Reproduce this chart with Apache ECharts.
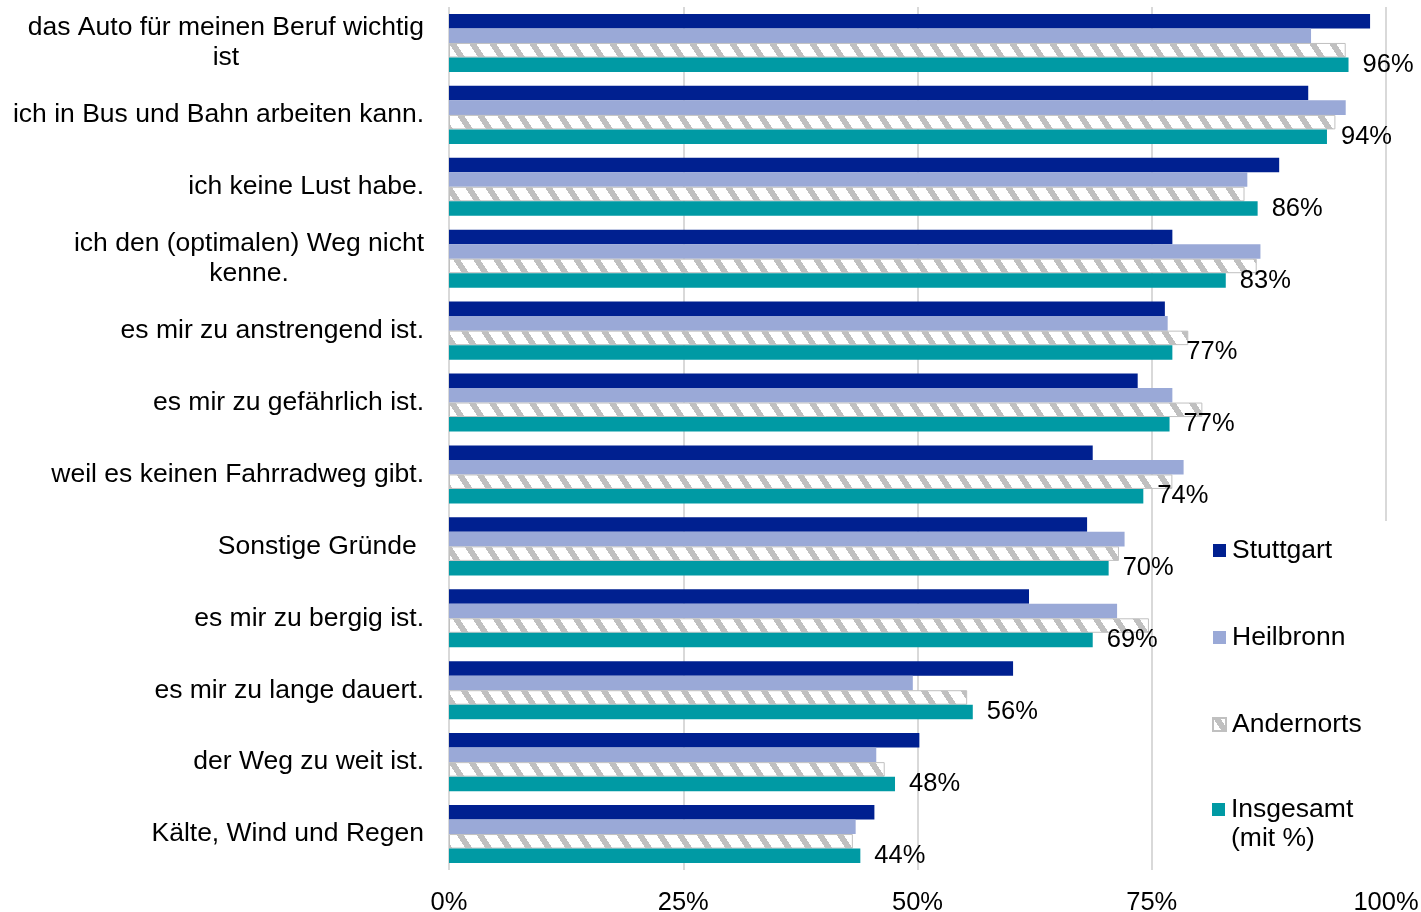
<!DOCTYPE html>
<html>
<head>
<meta charset="utf-8">
<script src="https://cdn.jsdelivr.net/npm/echarts@6/dist/echarts.min.js"></script>
<style>
html,body{margin:0;padding:0;background:#fff;}
#chart{width:1421px;height:912px;}
</style>
</head>
<body>
<div id="chart"></div>
<script>
const categories = [
  'das Auto für meinen Beruf wichtig\nist',
  'ich in Bus und Bahn arbeiten kann.',
  'ich keine Lust habe.',
  'ich den (optimalen) Weg nicht\nkenne.',
  'es mir zu anstrengend ist.',
  'es mir zu gefährlich ist.',
  'weil es keinen Fahrradweg gibt.',
  'Sonstige Gründe ',
  'es mir zu bergig ist.',
  'es mir zu lange dauert.',
  'der Weg zu weit ist.',
  'Kälte, Wind und Regen'
];
const stuttgart  = [98.3, 91.7, 88.6, 77.2, 76.4, 73.5, 68.7, 68.1, 61.9, 60.2, 50.2, 45.4];
const heilbronn  = [92.0, 95.7, 85.2, 86.6, 76.7, 77.2, 78.4, 72.1, 71.3, 49.5, 45.6, 43.4];
const andernorts = [95.7, 94.6, 84.9, 86.2, 78.9, 80.4, 77.2, 71.5, 74.7, 55.3, 46.5, 43.1];
const insgesamt  = [96.0, 93.7, 86.3, 82.9, 77.2, 76.9, 74.1, 70.4, 68.7, 55.9, 47.6, 43.9];
const seriesNames = ['Stuttgart', 'Heilbronn', 'Andernorts', 'Insgesamt'];
const xTicks = [0, 25, 50, 75, 100];

const FONT = "'Liberation Sans', Arial, sans-serif";

// striped pattern for "Andernorts"
function makePattern() {
  const w = 20, h = 30;
  const c = document.createElement('canvas');
  c.width = w; c.height = h;
  const ctx = c.getContext('2d');
  const img = ctx.createImageData(w, h);
  for (let y = 0; y < h; y++) {
    for (let x = 0; x < w; x++) {
      const v = (((x - y * 2 / 3) % w) + w) % w;
      const g = v < 7 ? 192 : 255;
      const i = (y * w + x) * 4;
      img.data[i] = g; img.data[i + 1] = g; img.data[i + 2] = g; img.data[i + 3] = 255;
    }
  }
  ctx.putImageData(img, 0, 0);
  return c;
}
const pattern = { image: makePattern(), repeat: 'repeat' };

const chart = echarts.init(document.getElementById('chart'), null, { renderer: 'canvas' });

const legendText = { fontSize: 26.5, lineHeight: 29, color: '#000', fontFamily: FONT, padding: [0, 0, 0, 1] };

const option = {
  animation: false,
  backgroundColor: '#ffffff',
  textStyle: { fontFamily: FONT },
  grid: { left: 449, right: 35, top: 7, bottom: 42, containLabel: false, outerBoundsMode: 'none' },
  legend: [
    {
      orient: 'vertical',
      left: 1204,
      top: 521,
      height: 300,
      padding: [15, 60, 40, 8],
      backgroundColor: '#ffffff',
      icon: 'rect',
      itemWidth: 13,
      itemHeight: 13,
      itemGap: 58,
      data: seriesNames.slice(0, 3),
      textStyle: legendText
    },
    {
      orient: 'vertical',
      left: 1204,
      top: 766,
      padding: [0, 60, 20, 8],
      backgroundColor: '#ffffff',
      icon: 'rect',
      itemWidth: 13,
      itemHeight: 13,
      data: seriesNames.slice(3),
      formatter: function (name) { return '\n' + name + '\n(mit %)'; },
      textStyle: legendText
    }
  ],
  xAxis: {
    type: 'value',
    min: 0,
    max: 100,
    interval: 25,
    axisLine: { show: false },
    axisTick: { show: false },
    axisLabel: {
      formatter: '{value}%',
      fontSize: 25.5,
      color: '#000',
      margin: 20,
      fontFamily: FONT
    },
    splitLine: { show: true, lineStyle: { color: '#d9d9d9', width: 2 } }
  },
  yAxis: {
    type: 'category',
    inverse: true,
    data: categories,
    axisLine: { show: false },
    axisTick: { show: false },
    axisLabel: {
      align: 'right',
      margin: 25,
      formatter: function (v) {
        return v.split('\n').map(function (l) { return '{c|' + l + '}'; }).join('\n');
      },
      rich: {
        c: { align: 'center', fontSize: 26.5, lineHeight: 30, color: '#000', fontFamily: FONT }
      }
    }
  },
  series: [
    {
      name: 'Stuttgart', type: 'bar', data: stuttgart,
      barGap: '0%', barCategoryGap: '19.3%',
      itemStyle: { color: '#002090' }
    },
    {
      name: 'Heilbronn', type: 'bar', data: heilbronn,
      itemStyle: { color: '#9aa9d7' }
    },
    {
      name: 'Andernorts', type: 'bar', data: andernorts,
      itemStyle: { color: pattern, borderColor: '#c0c0c0', borderWidth: 1 }
    },
    {
      name: 'Insgesamt', type: 'bar', data: insgesamt,
      itemStyle: { color: '#009aa4' },
      label: {
        show: true,
        position: 'right',
        distance: 14,
        fontSize: 25.5,
        color: '#000',
        fontFamily: FONT,
        formatter: function (p) { return Math.round(p.value) + '%'; }
      }
    }
  ]
};
chart.setOption(option);
</script>
</body>
</html>
